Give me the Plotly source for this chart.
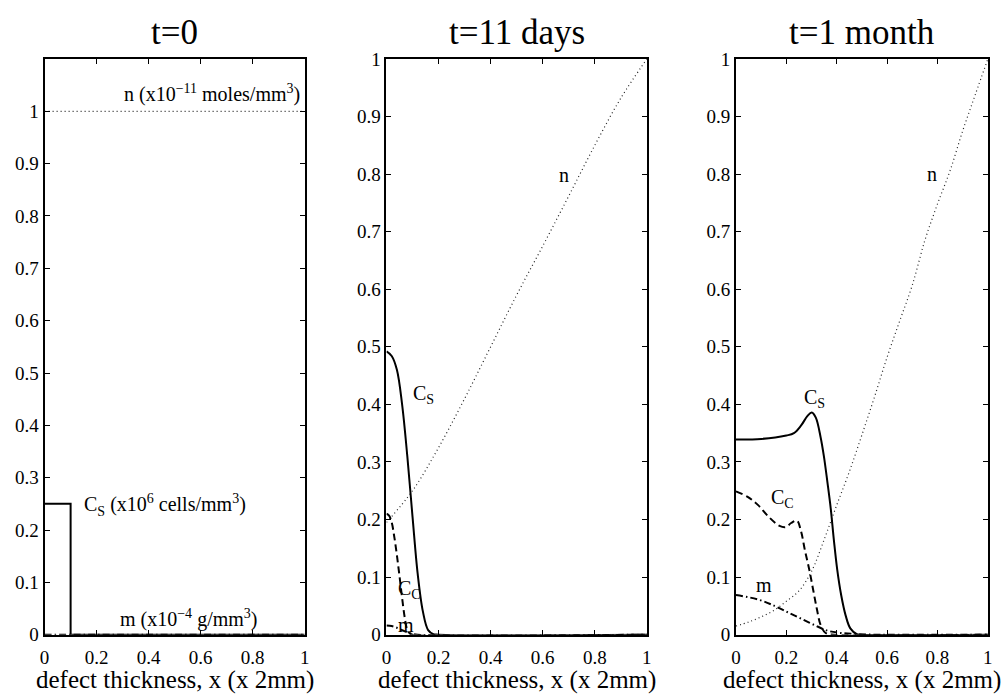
import plotly.graph_objects as go

# ---- t = 0 ----
x_n0 = [0.0, 1.0]
n0 = [1.0, 1.0]
x_cs0 = [0.0, 0.1, 0.1, 1.0]
cs0 = [0.25, 0.25, 0.0, 0.0]
x_m0 = [0.0, 1.0]
m0 = [0.0, 0.0]

# ---- t = 11 days ----
x_n11 = [0.0, 0.1, 0.2, 0.3, 0.4, 0.5, 0.6, 0.7, 0.8, 0.9, 1.0]
n11 = [0.195, 0.25, 0.325, 0.41, 0.5, 0.59, 0.675, 0.762, 0.85, 0.932, 1.0]
x_cs11 = [0.0, 0.02, 0.04, 0.06, 0.08, 0.1, 0.12, 0.14, 0.16, 0.18, 0.2, 1.0]
cs11 = [0.492, 0.484, 0.46, 0.40, 0.31, 0.205, 0.105, 0.04, 0.008, 0.001, 0.0, 0.0]
x_cc11 = [0.0, 0.01, 0.02, 0.03, 0.04, 0.05, 0.06, 0.07, 0.08, 0.09, 0.1, 1.0]
cc11 = [0.21, 0.207, 0.195, 0.17, 0.138, 0.102, 0.064, 0.03, 0.008, 0.002, 0.0, 0.0]
x_m11 = [0.0, 0.02, 0.04, 0.06, 0.08, 0.1, 0.12, 1.0]
m11 = [0.016, 0.015, 0.012, 0.008, 0.004, 0.0015, 0.0, 0.0]

# ---- t = 1 month ----
x_n30 = [0.0, 0.05, 0.1, 0.15, 0.2, 0.25, 0.3, 0.35, 0.4, 0.45, 0.5, 0.55,
         0.6, 0.65, 0.7, 0.75, 0.8, 0.85, 0.9, 0.95, 1.0]
n30 = [0.015, 0.022, 0.031, 0.042, 0.058, 0.076, 0.110, 0.165, 0.225, 0.283, 0.347,
       0.413, 0.482, 0.545, 0.607, 0.685, 0.748, 0.806, 0.875, 0.938, 1.0]
x_cs30 = [0.0, 0.1, 0.2, 0.23, 0.258, 0.284, 0.301, 0.317, 0.336, 0.349, 0.363,
          0.376, 0.389, 0.402, 0.418, 0.435, 0.454, 0.48, 0.5, 1.0]
cs30 = [0.339, 0.34, 0.346, 0.35, 0.363, 0.38, 0.386, 0.377, 0.343, 0.31, 0.265,
        0.22, 0.163, 0.113, 0.068, 0.034, 0.011, 0.001, 0.0, 0.0]
x_cc30 = [0.0, 0.048, 0.088, 0.127, 0.173, 0.199, 0.219, 0.242, 0.258, 0.274,
          0.291, 0.306, 0.321, 0.336, 0.356, 0.39, 1.0]
cc30 = [0.249, 0.239, 0.225, 0.206, 0.189, 0.187, 0.194, 0.198, 0.18, 0.146,
        0.113, 0.079, 0.045, 0.017, 0.003, 0.0, 0.0]
x_m30 = [0.0, 0.088, 0.153, 0.205, 0.258, 0.31, 0.363, 0.415, 0.48, 0.55, 1.0]
m30 = [0.069, 0.061, 0.05, 0.039, 0.028, 0.017, 0.007, 0.003, 0.001, 0.0, 0.0]

titles = ["t=0", "t=11 days", "t=1 month"]
xlabel = "defect thickness, x (x 2mm)"
xticks = [0, 0.2, 0.4, 0.6, 0.8, 1.0]
xticktext = ["0", "0.2", "0.4", "0.6", "0.8", "1"]
yticks = [0, 0.1, 0.2, 0.3, 0.4, 0.5, 0.6, 0.7, 0.8, 0.9, 1.0]
yticktext = ["0", "0.1", "0.2", "0.3", "0.4", "0.5", "0.6", "0.7", "0.8", "0.9", "1"]
yranges = [[0, 1.1], [0, 1.0], [0, 1.0]]

W, H = 1008, 700
FONT = "Liberation Serif, Times New Roman, serif"
# panel boxes in pixels (left, right); shared top/bottom
panels_px = [(40, 302.7), (385.3, 648.3), (738.3, 992.7)]
top_px, bot_px = 50.5, 644

SOLID = dict(color="black", width=2)
DASH = dict(color="black", width=2, dash="7px,4px")
DASHDOT = dict(color="black", width=2, dash="7px,3px,1.5px,3px")
DOT = dict(color="#222222", width=1.2, dash="1px,3px")

fig = go.Figure()

def add(x, y, line, i, shape="linear"):
    ax = "" if i == 0 else str(i + 1)
    fig.add_trace(go.Scatter(x=x, y=y, mode="lines", line=dict(shape=shape, **line),
                             xaxis="x" + ax, yaxis="y" + ax, showlegend=False,
                             hoverinfo="skip"))

add(x_m0, m0, DASHDOT, 0)
add(x_n0, n0, DOT, 0)
add(x_cs0, cs0, SOLID, 0)

add(x_n11, n11, DOT, 1, "spline")
add(x_m11, m11, DASHDOT, 1, "spline")
add(x_cc11, cc11, DASH, 1, "spline")
add(x_cs11, cs11, SOLID, 1, "spline")

add(x_n30, n30, DOT, 2, "spline")
add(x_m30, m30, DASHDOT, 2, "spline")
add(x_cc30, cc30, DASH, 2, "spline")
add(x_cs30, cs30, SOLID, 2, "spline")

layout = dict(
    width=W, height=H,
    margin=dict(l=0, r=0, t=0, b=0),
    paper_bgcolor="white", plot_bgcolor="white",
    font=dict(family=FONT, color="black", size=20),
)

axis_common = dict(
    showline=True, linewidth=2, linecolor="black", mirror="ticks",
    ticks="inside", ticklen=5, tickwidth=1.2, tickcolor="black",
    showgrid=False, zeroline=False,
    tickfont=dict(family=FONT, size=19, color="black"),
)

annotations = []
for i, (l, r) in enumerate(panels_px):
    ax = "" if i == 0 else str(i + 1)
    layout["xaxis" + ax] = dict(
        axis_common, domain=[l / W, r / W], range=[0, 1],
        tickvals=xticks, ticktext=xticktext, ticklabelstandoff=5,
        anchor="y" + ax,
    )
    layout["yaxis" + ax] = dict(
        axis_common, domain=[(H - bot_px) / H, (H - top_px) / H], range=yranges[i],
        tickvals=yticks, ticktext=yticktext, anchor="x" + ax,
    )
    annotations.append(dict(
        text=titles[i], xref="x" + ax + " domain", yref="paper",
        x=0.5, y=(H - 23) / H, xanchor="center", yanchor="middle",
        showarrow=False, font=dict(family=FONT, size=35, color="black"),
    ))
    annotations.append(dict(
        text=xlabel, xref="x" + ax + " domain", yref="paper",
        x=0.5, y=-6 / H, xanchor="center", yanchor="bottom", borderpad=0,
        showarrow=False, font=dict(family=FONT, size=25, color="black"),
    ))

# curve labels: (panel, text, x, y)
labels = [
    (0, "n (x10<sup>−11</sup> moles/mm<sup>3</sup>)", 0.297, 1.035),
    (0, "C<sub>S</sub> (x10<sup>6</sup> cells/mm<sup>3</sup>)", 0.145, 0.248),
    (0, "m (x10<sup>−4</sup> g/mm<sup>3</sup>)", 0.282, 0.03),
    (1, "n", 0.655, 0.798),
    (1, "C<sub>S</sub>", 0.094, 0.418),
    (1, "C<sub>C</sub>", 0.037, 0.079),
    (1, "m", 0.037, 0.017),
    (2, "n", 0.75, 0.80),
    (2, "C<sub>S</sub>", 0.263, 0.41),
    (2, "C<sub>C</sub>", 0.13, 0.236),
    (2, "m", 0.071, 0.087),
]
for i, txt, x, y in labels:
    ax = "" if i == 0 else str(i + 1)
    annotations.append(dict(
        text=txt, xref="x" + ax, yref="y" + ax, x=x, y=y,
        xanchor="left", yanchor="middle", showarrow=False,
        font=dict(family=FONT, size=20, color="black"),
    ))

layout["annotations"] = annotations
fig.update_layout(**layout)
fig.write_html("out.html")
